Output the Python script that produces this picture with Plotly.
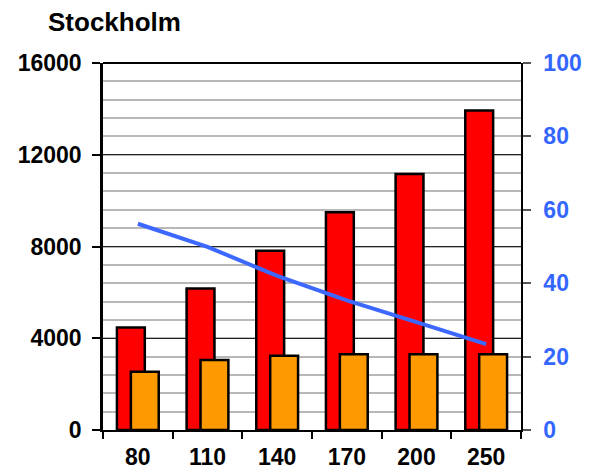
import plotly.graph_objects as go

# Chart data
categories = ["80", "110", "140", "170", "200", "250"]
red_values = [4470, 6170, 7820, 9490, 11160, 13930]
orange_values = [2540, 3050, 3240, 3300, 3300, 3300]
line_values = [56.2, 49.9, 42.0, 35.3, 29.4, 23.4]

left_ticks = [0, 4000, 8000, 12000, 16000]
right_ticks = [0, 20, 40, 60, 80, 100]

FONT = "Liberation Sans, Arial, sans-serif"
BLUE = "#3366FF"
TICK_SIZE = 23

fig = go.Figure()

fig.add_trace(go.Bar(
    x=categories, y=red_values,
    marker=dict(color="#FF0000", line=dict(color="black", width=2.5)),
    width=0.40, offset=-0.30, opacity=1, showlegend=False,
))
fig.add_trace(go.Bar(
    x=categories, y=orange_values,
    marker=dict(color="#FF9900", line=dict(color="black", width=2.5)),
    width=0.40, offset=-0.10, opacity=1, showlegend=False,
))
fig.add_trace(go.Scatter(
    x=categories, y=line_values, yaxis="y2", mode="lines",
    line=dict(color="#3D68FF", width=4), showlegend=False,
))

fig.update_layout(
    width=598, height=473,
    margin=dict(l=103, r=77, t=63, b=43),
    paper_bgcolor="white", plot_bgcolor="white",
    barmode="overlay",
    font=dict(family=FONT, size=TICK_SIZE, color="black"),
    title=dict(
        text="<b>Stockholm</b>", font=dict(family=FONT, size=26, color="black"),
        x=48 / 598, xanchor="left", xref="container",
        y=1 - 22 / 473, yanchor="middle", yref="container",
    ),
    xaxis=dict(
        type="category", showline=True, linecolor="black", linewidth=2,
        ticks="outside", tickson="boundaries", ticklen=7, tickwidth=2, tickcolor="black",
        tickfont=dict(family=FONT, size=TICK_SIZE, color="black"),
        ticklabelstandoff=5, automargin=False,
        showgrid=False, mirror=False,
    ),
    yaxis=dict(
        range=[0, 16000], tickvals=left_ticks, ticktext=[f"<b>{v}</b>" for v in left_ticks],
        showline=True, linecolor="black", linewidth=2.5,
        ticks="outside", ticklen=8, tickwidth=2, tickcolor="black",
        ticklabelstandoff=6, automargin=False,
        showgrid=True, gridcolor="#222222", gridwidth=1,
        minor=dict(dtick=800, showgrid=True, gridcolor="#B8B8B8", gridwidth=1.5, ticks=""),
        zeroline=False,
        tickfont=dict(family=FONT, size=TICK_SIZE, color="black"),
    ),
    yaxis2=dict(
        range=[0, 100], overlaying="y", side="right",
        tickvals=right_ticks, ticktext=[f"<b>{v}</b>" for v in right_ticks],
        showline=True, linecolor="black", linewidth=1.5,
        ticks="outside", ticklen=8, tickwidth=1.5, tickcolor="#555555",
        ticklabelstandoff=8, automargin=False,
        showgrid=False, zeroline=False,
        tickfont=dict(family=FONT, size=TICK_SIZE, color=BLUE),
    ),
    shapes=[dict(type="line", xref="paper", yref="paper", x0=0, x1=1, y0=1, y1=1,
                 line=dict(color="black", width=2))],
)

fig.update_xaxes(ticktext=[f"<b>{c}</b>" for c in categories], tickvals=categories)

fig.write_html("out.html")
